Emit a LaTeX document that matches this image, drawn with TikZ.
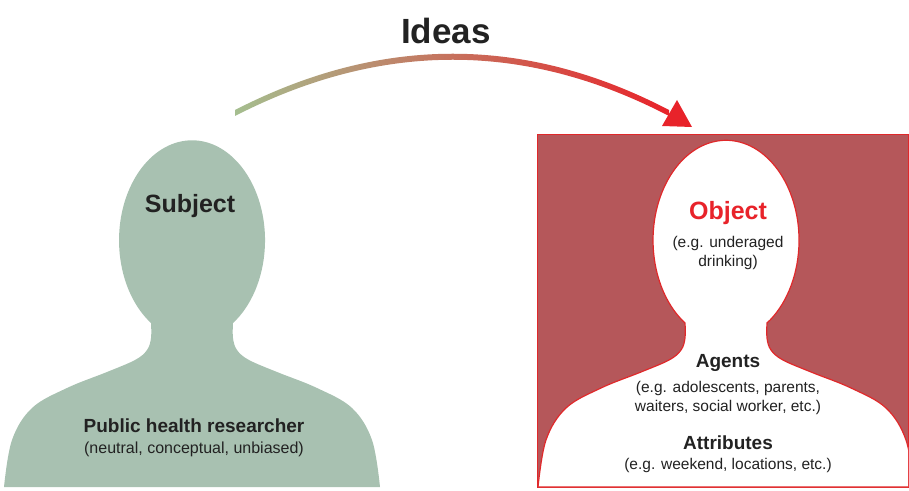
\documentclass[tikz,border=0pt]{standalone}
\usepackage{fontspec}
\setmainfont{Liberation Sans}
\usetikzlibrary{positioning}
\definecolor{sage}{HTML}{A8C1B1}
\definecolor{boxred}{HTML}{B5575A}
\definecolor{linered}{HTML}{E0282A}
\definecolor{ideasgreen}{HTML}{A5BE8F}
\definecolor{ideasred}{HTML}{E8232A}
\definecolor{textdark}{HTML}{222222}

\begin{document}
\begin{tikzpicture}[
    x=1pt, y=1pt,
    person/.pic={
      \path[pic actions]
        plot[smooth, tension=0.6] coordinates {(-188,3) (-180,50) (-160,82) (-125,102) (-85,118) (-57,130) (-45,140) (-41,152) (-41,167)}
        arc[start angle=235.8, end angle=-55.8, x radius=73pt, y radius=100pt]
        -- plot[smooth, tension=0.6] coordinates {(41,167) (41,152) (45,140) (57,130) (85,118) (125,102) (160,82) (180,50) (188,3)}
        -- cycle;
    },
    title/.style={font=\fontsize{35}{40}\selectfont\bfseries, text=textdark},
    head/.style={font=\fontsize{25}{30}\selectfont\bfseries, text=textdark},
    label/.style={font=\fontsize{19}{22}\selectfont\bfseries, text=textdark},
    small/.style={font=\fontsize{15.5}{19}\selectfont, text=textdark, align=center, inner sep=0pt},
    node distance=4pt
]
\useasboundingbox (0,0) rectangle (909,490);

% Object box
\fill[boxred, draw=linered, line width=1pt] (537,3) rectangle (908,355);

% Persons
\pic[fill=sage] at (192,0) {person};
\begin{scope}
\clip (537,3) rectangle (908,355);
\pic[fill=white, draw=linered, line width=1.2pt] at (726,0) {person};
\end{scope}

% Subject texts
\node[head] (subject) at (190,284) {Subject};
\node[label] (researcher) at (194,64) {Public health researcher};
\node[small, font=\fontsize{16}{19}\selectfont, below=5pt of researcher] (neutral) {(neutral, conceptual, unbiased)};

% Object texts
\node[head, text=ideasred] (object) at (728,277) {Object};
\node[small, below=8pt of object] (objectex) {(e.g. underaged\\drinking)};
\node[label] (agents) at (728,127) {Agents};
\node[small, below=6pt of agents] (agentsex) {(e.g. adolescents, parents,\\waiters, social worker, etc.)};
\node[label] (attributes) at (728,47) {Attributes};
\node[small, below=5pt of attributes] (attributesex) {(e.g. weekend, locations, etc.)};

% Ideas arrow
\node[title] (ideas) at (446,459) {Ideas};
\coordinate (ideasstart) at (235,377);
\coordinate (ideasctrlA) at (381,452);
\coordinate (ideasctrlB) at (525,452);
\coordinate (ideasend) at (669,377);
\coordinate (ideastip) at (692,363);
\shade[left color=ideasgreen, right color=ideasred]
  ([yshift=3pt]ideasstart) .. controls ([yshift=3pt]ideasctrlA) and ([yshift=3pt]ideasctrlB) .. ([yshift=3pt]ideasend)
  -- ([yshift=-3pt]ideasend) .. controls ([yshift=-3pt]ideasctrlB) and ([yshift=-3pt]ideasctrlA) .. ([yshift=-3pt]ideasstart)
  -- cycle;
\fill[ideasred] (ideastip) -- (662,364) -- (677,390) -- cycle;

\end{tikzpicture}
\end{document}
